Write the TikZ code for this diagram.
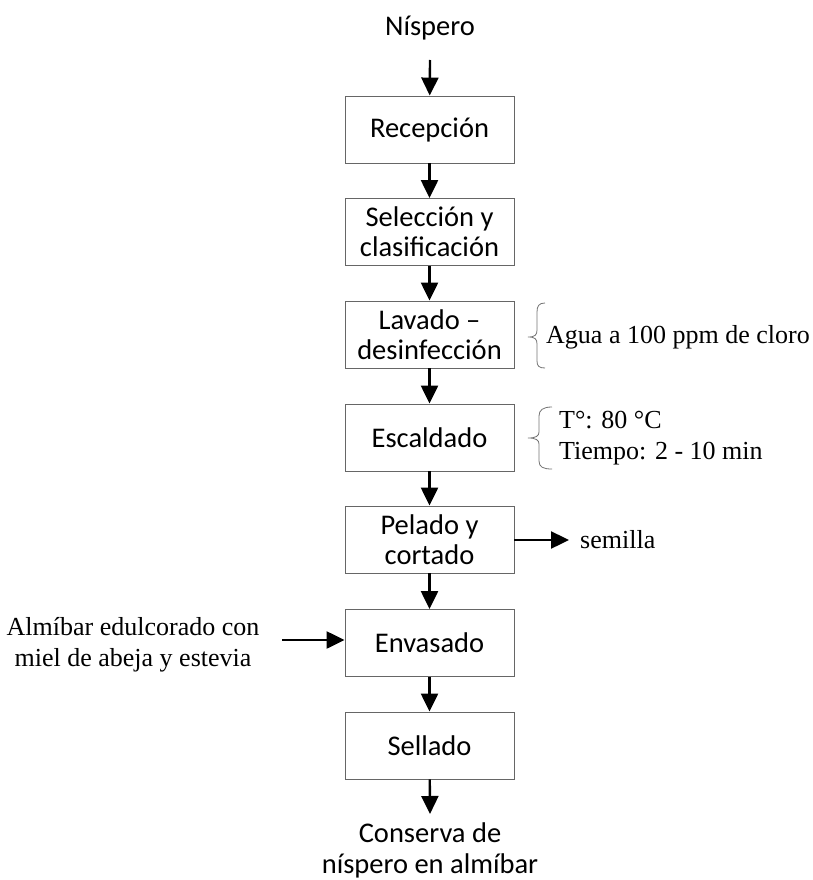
\documentclass[tikz,border=0pt]{standalone}
\usepackage{fontspec}
\setmainfont{Liberation Serif}
\newfontfamily\boxfont{Carlito}
\usetikzlibrary{arrows.meta}
\begin{document}
\begin{tikzpicture}[x=1pt,y=-1pt,
  stepbox/.style={draw=black!60,line width=0.9pt,minimum width=169pt,minimum height=67pt,inner sep=0pt,align=center,font=\boxfont\fontsize{28.5}{30}\selectfont},
  boxtext/.style={align=center,inner sep=0pt,font=\boxfont\fontsize{28.5}{31}\selectfont},
  sidetext/.style={inner sep=0pt,font=\fontsize{26}{31}\selectfont},
  flow/.style={line width=2.4pt,-{Triangle[length=18pt,width=17pt]}},
  brace/.style={draw=black!55,line width=0.8pt}]
\useasboundingbox (0,0) rectangle (812,880);
\node[boxtext] (nisp) at (430,28) {Níspero};
\coordinate (nispend) at (430,60);
\node[stepbox] (rec) at (429.5,129.5) {Recepción};
\node[stepbox] (sel) at (429.5,232) {Selección y\\clasificación};
\node[stepbox] (lav) at (429.5,334.5) {Lavado –\\desinfección};
\node[stepbox] (esc) at (429.5,437.5) {Escaldado};
\node[stepbox] (pel) at (429.5,539.5) {Pelado y\\cortado};
\node[stepbox] (env) at (429.5,643) {Envasado};
\node[stepbox] (sell) at (429.5,745.5) {Sellado};
\node[boxtext] (cons) at (430,850) {Conserva de\\níspero en almíbar};
\coordinate (consend) at (430,814);
\draw[flow] (nispend) -- (rec);
\draw[flow] (rec) -- (sel);
\draw[flow] (sel) -- (lav);
\draw[flow] (lav) -- (esc);
\draw[flow] (esc) -- (pel);
\draw[flow] (pel) -- (env);
\draw[flow] (env) -- (sell);
\draw[flow] (sell) -- (consend);
% side inputs/outputs
\coordinate (semend) at (569,540);
\draw[flow] (pel.east |- semend) -- (semend);
\node[sidetext,anchor=west] (sem) at (580,540) {semilla};
\node[sidetext,align=center] (alm) at (133,645) {Almíbar edulcorado con\\miel de abeja y estevia};
\coordinate (almstart) at (282,640);
\draw[flow] (almstart) -- (env.west |- almstart);
% braces
\draw[brace] (545,303) .. controls (539,303) and (537,306) .. (537,312) -- (537,330) .. controls (537,335) and (535,337) .. (528,337)
  .. controls (535,337) and (537,339) .. (537,344) -- (537,361) .. controls (537,366) and (539,368) .. (545,368);
\node[sidetext,anchor=west] (agua) at (546,337) {Agua a 100 ppm de cloro};
\draw[brace] (552,407) .. controls (543,407) and (539,410) .. (539,416) -- (539,432) .. controls (539,436) and (536,438) .. (528,438)
  .. controls (536,438) and (539,440) .. (539,444) -- (539,461) .. controls (539,467) and (543,469) .. (552,469);
\node[sidetext,anchor=west,align=left] (temp) at (559,438) {T°: 80 °C\\Tiempo: 2 - 10 min};
\end{tikzpicture}
\end{document}
